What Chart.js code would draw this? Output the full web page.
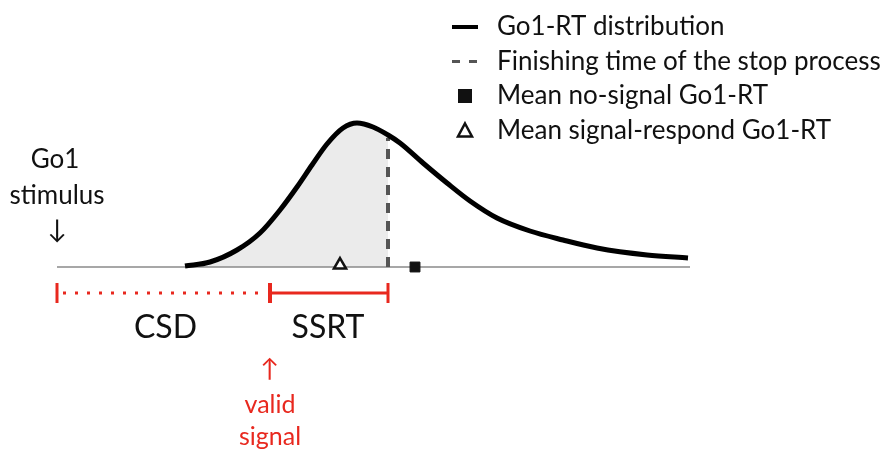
<!DOCTYPE html>
<html>
<head>
<meta charset="utf-8">
<script src="https://cdn.jsdelivr.net/npm/chart.js@4"></script>
<style>
  html, body { margin: 0; padding: 0; background: #fff; }
  #wrap { width: 885px; height: 451px; }
</style>
</head>
<body>
<div id="wrap"><canvas id="chart" width="885" height="451"></canvas></div>
<script>
// time after Go1 stimulus (arbitrary units) and density of the Go1-RT distribution
const curveTimes = [128, 153, 180, 203, 223, 240, 255, 270, 286, 300, 316, 331, 343, 366, 390, 413, 440, 473, 506, 540, 590, 631];
const curveDensity = [1, 5, 17, 34, 57, 80, 102, 123, 139, 144, 140, 132, 124, 104, 84, 66, 49, 36, 27, 19, 12, 9];

const csdTime = 213;          // stop-signal delay
const stopFinishTime = 331;   // CSD + SSRT
const meanSignalRespond = 283;
const meanNoSignal = 358;
const axisEnd = 633;
const barLevel = -26;         // level of CSD / SSRT bars below the time axis
const capHalf = 10;

const legendLabels = [
    "Go1-RT distribution",
    "Finishing time of the stop process",
    "Mean no-signal Go1-RT",
    "Mean signal-respond Go1-RT"
];

const red = "#e8281e";
const font = "Lato, 'Open Sans', sans-serif";

function pts(xs, ys) {
    return xs.map((x, i) => ({ x: x, y: ys[i] }));
}

// shaded part of the distribution: up to the stop finishing time
const shadeIdx = curveTimes.findIndex(t => t >= stopFinishTime);
const shadeTimes = curveTimes.slice(0, shadeIdx + 1);
const shadeDensity = curveDensity.slice(0, shadeIdx + 1);
const stopDensity = curveDensity[shadeIdx];

const textPlugin = {
    id: "texts",
    afterDraw(chart) {
        const ctx = chart.ctx;
        const xs = chart.scales.x;
        const ys = chart.scales.y;
        ctx.save();
        ctx.textBaseline = "middle";

        // legend
        const lx = 452, ly = 27, step = 34.5;
        ctx.fillStyle = "#111";
        ctx.font = "26px " + font;
        ctx.textAlign = "left";
        legendLabels.forEach((lab, i) => {
            ctx.fillText(lab, lx + 45, ly + i * step);
        });
        ctx.strokeStyle = "#000";
        ctx.lineWidth = 4;
        ctx.beginPath();
        ctx.moveTo(lx, ly); ctx.lineTo(lx + 26, ly);
        ctx.stroke();
        ctx.strokeStyle = "#555";
        ctx.lineWidth = 3;
        ctx.beginPath();
        ctx.moveTo(lx, ly + step); ctx.lineTo(lx + 8, ly + step);
        ctx.moveTo(lx + 17, ly + step); ctx.lineTo(lx + 25, ly + step);
        ctx.stroke();
        ctx.fillStyle = "#111";
        ctx.fillRect(lx + 6, ly + 2 * step - 7, 14, 14);
        ctx.strokeStyle = "#111";
        ctx.lineWidth = 2.5;
        ctx.beginPath();
        ctx.moveTo(lx + 13, ly + 3 * step - 7);
        ctx.lineTo(lx + 20, ly + 3 * step + 6);
        ctx.lineTo(lx + 6, ly + 3 * step + 6);
        ctx.closePath();
        ctx.stroke();

        // Go1 stimulus
        const x0 = xs.getPixelForValue(0);
        ctx.textAlign = "center";
        ctx.fillStyle = "#111";
        ctx.font = "26px " + font;
        ctx.fillText("Go1", x0 - 2, 160);
        ctx.fillText("stimulus", x0, 196);
        ctx.fillText("\u2193", x0, 230);

        // interval labels
        const yb = ys.getPixelForValue(barLevel);
        ctx.font = "32px " + font;
        ctx.fillText("CSD", xs.getPixelForValue(csdTime / 2) + 2, yb + 35);
        ctx.fillText("SSRT", xs.getPixelForValue((csdTime + stopFinishTime) / 2) - 1, yb + 35);

        // valid signal
        const xc = xs.getPixelForValue(csdTime);
        ctx.fillStyle = red;
        ctx.font = "25px " + font;
        ctx.fillText("\u2191", xc, 369);
        ctx.fillText("valid", xc, 405);
        ctx.fillText("signal", xc, 437);
        ctx.restore();
    }
};

new Chart(document.getElementById("chart"), {
    type: "scatter",
    data: {
        datasets: [
            {
                data: pts([meanNoSignal], [0]),
                pointStyle: "rect",
                pointRadius: 7,
                backgroundColor: "#111",
                borderColor: "#111",
                order: 0
            },
            {
                data: pts([meanSignalRespond], [2]),
                pointStyle: "triangle",
                pointRadius: 7,
                backgroundColor: "#fff",
                borderColor: "#111",
                borderWidth: 2.5,
                order: 0
            },
            {
                data: pts(curveTimes, curveDensity),
                showLine: true,
                borderColor: "#000",
                borderWidth: 5,
                cubicInterpolationMode: "monotone",
                pointRadius: 0,
                order: 1
            },
            {
                data: pts([stopFinishTime, stopFinishTime], [0, stopDensity - 3]),
                showLine: true,
                borderColor: "#555",
                borderWidth: 4,
                borderDash: [10, 8],
                pointRadius: 0,
                order: 2
            },
            {
                data: pts([0, axisEnd], [0, 0]),
                showLine: true,
                borderColor: "#8a8a8a",
                borderWidth: 1.5,
                pointRadius: 0,
                order: 3
            },
            {
                data: pts(shadeTimes, shadeDensity),
                showLine: true,
                borderWidth: 0,
                borderColor: "rgba(0,0,0,0)",
                backgroundColor: "#ebebeb",
                fill: "origin",
                cubicInterpolationMode: "monotone",
                pointRadius: 0,
                order: 4
            },
            // CSD dotted bar
            {
                data: pts([6, csdTime - 4], [barLevel, barLevel]),
                showLine: true,
                borderColor: red,
                borderWidth: 3,
                borderDash: [3, 9],
                pointRadius: 0,
                order: 1
            },
            // SSRT solid bar
            {
                data: pts([csdTime, stopFinishTime], [barLevel, barLevel]),
                showLine: true,
                borderColor: red,
                borderWidth: 3,
                pointRadius: 0,
                order: 1
            },
            // end caps
            {
                data: pts([0, 0], [barLevel - capHalf, barLevel + capHalf]),
                showLine: true,
                borderColor: red,
                borderWidth: 3,
                pointRadius: 0,
                order: 1
            },
            {
                data: pts([csdTime, csdTime], [barLevel - capHalf, barLevel + capHalf]),
                showLine: true,
                borderColor: red,
                borderWidth: 4,
                pointRadius: 0,
                order: 1
            },
            {
                data: pts([stopFinishTime, stopFinishTime], [barLevel - capHalf, barLevel + capHalf]),
                showLine: true,
                borderColor: red,
                borderWidth: 3,
                pointRadius: 0,
                order: 1
            }
        ]
    },
    options: {
        responsive: false,
        animation: false,
        layout: { padding: 0, autoPadding: false },
        scales: {
            x: { type: "linear", min: -57, max: 828, display: false },
            y: { type: "linear", min: -184, max: 267, display: false }
        },
        plugins: {
            legend: { display: false },
            tooltip: { enabled: false }
        }
    },
    plugins: [textPlugin]
});
</script>
</body>
</html>
